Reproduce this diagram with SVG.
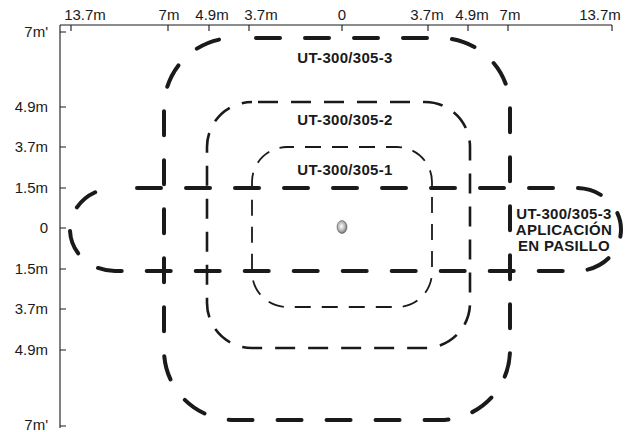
<svg xmlns="http://www.w3.org/2000/svg" width="633" height="432" viewBox="0 0 633 432">
  <style>
    .axis { stroke: #1a1a1a; stroke-width: 1.1; fill: none; }
    .ax { font-family: "Liberation Sans", Arial, sans-serif; font-size: 15px; fill: #1a1a1a; }
    .lbl { font-family: "Liberation Sans", Arial, sans-serif; font-size: 15px; font-weight: bold; fill: #1a1a1a; letter-spacing: 0.3px; text-anchor: middle; }
    .big { fill: none; stroke: #1a1a1a; stroke-width: 4; stroke-linecap: round; stroke-dasharray: 24 25; stroke-dashoffset: 27; }
    .mid { fill: none; stroke: #1a1a1a; stroke-width: 2.6; stroke-dasharray: 20 13; stroke-dashoffset: 27; }
    .small { fill: none; stroke: #1a1a1a; stroke-width: 1.8; stroke-dasharray: 16 11; stroke-dashoffset: 9; }
  </style>
  <defs>
    <radialGradient id="dotg" cx="0.45" cy="0.45" r="0.6">
      <stop offset="0" stop-color="#ffffff"/>
      <stop offset="0.6" stop-color="#b0b0b0"/>
      <stop offset="1" stop-color="#555555"/>
    </radialGradient>
  </defs>
  <rect width="633" height="432" fill="#ffffff"/>

  <g id="axes">
    <path class="axis" d="M60 25 H612 M60 25 V428"/>
    <path class="axis" d="M71 25 V31 M168 25 V31 M209 25 V31 M249 25 V31 M342 25 V31 M428 25 V31 M468 25 V31 M508 25 V31 M612 25 V31"/>
    <path class="axis" d="M60 32 H66 M60 107 H66 M60 147 H66 M60 188 H66 M60 228 H66 M60 269 H66 M60 309 H66 M60 350 H66 M60 426 H66"/>
    <g class="ax" text-anchor="middle">
      <text x="85" y="20">13.7m</text>
      <text x="169" y="20">7m</text>
      <text x="212" y="20">4.9m</text>
      <text x="261" y="20">3.7m</text>
      <text x="342" y="20">0</text>
      <text x="427" y="20">3.7m</text>
      <text x="472" y="20">4.9m</text>
      <text x="510" y="20">7m</text>
      <text x="600" y="20">13.7m</text>
    </g>
    <g class="ax" text-anchor="end">
      <text x="48" y="37">7m'</text>
      <text x="48" y="112">4.9m</text>
      <text x="48" y="152">3.7m</text>
      <text x="48" y="193">1.5m</text>
      <text x="48" y="233">0</text>
      <text x="48" y="274">1.5m</text>
      <text x="48" y="314">3.7m</text>
      <text x="48" y="355">4.9m</text>
      <text x="48" y="430">7m'</text>
    </g>
  </g>

  <g id="connectors"></g>

  <g id="zone-ut-300-305-3">
    <path class="big" d="M234 38 H440 A70 70 0 0 1 510 108 V350 A70 70 0 0 1 440 420 H234 A70 70 0 0 1 164 350 V108 A70 70 0 0 1 234 38 Z"/>
    <text class="lbl" x="345" y="63">UT-300/305-3</text>
  </g>

  <g id="zone-ut-300-305-2">
    <path class="mid" d="M252 102 H425 A45 45 0 0 1 470 147 V303 A45 45 0 0 1 425 348 H252 A45 45 0 0 1 207 303 V147 A45 45 0 0 1 252 102 Z"/>
    <text class="lbl" x="345" y="125">UT-300/305-2</text>
  </g>

  <g id="zone-ut-300-305-1">
    <path class="small" d="M287 147 H397 A35 35 0 0 1 432 182 V272 A35 35 0 0 1 397 307 H287 A35 35 0 0 1 252 272 V182 A35 35 0 0 1 287 147 Z"/>
    <text class="lbl" x="345" y="175">UT-300/305-1</text>
  </g>

  <g id="zone-pasillo">
    <path class="big" d="M115 188 H576 A45 41.5 0 0 1 621 229.5 A45 41.5 0 0 1 576 271 H115 A45 41.5 0 0 1 70 229.5 A45 41.5 0 0 1 115 188 Z"/>
    <text class="lbl" x="564" y="219">UT-300/305-3</text>
    <text class="lbl" x="564" y="235">APLICACIÓN</text>
    <text class="lbl" x="564" y="251">EN PASILLO</text>
  </g>

  <g id="sensor">
    <ellipse cx="342" cy="227" rx="5" ry="6.5" fill="url(#dotg)" stroke="#666" stroke-width="0.6"/>
  </g>
</svg>
